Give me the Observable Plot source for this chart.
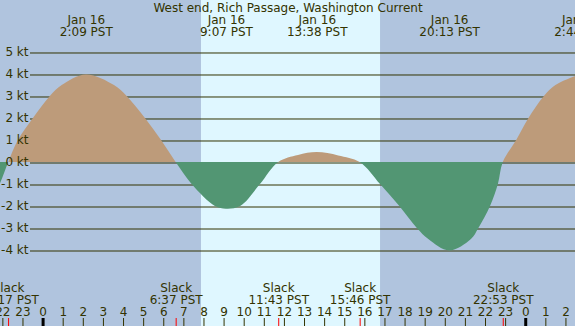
<!DOCTYPE html>
<html><head><meta charset="utf-8">
<script src="https://cdn.jsdelivr.net/npm/d3@7"></script>
<script src="https://cdn.jsdelivr.net/npm/@observablehq/plot@0.6"></script>
<style>html,body{margin:0;padding:0;background:#B0C4DE;overflow:hidden}</style>
</head><body><div id="chart"></div>
<script>
// ---- data (hours since Jan 16 00:00 PST) ----
const title = "West end, Rich Passage, Washington Current";
const curveHours = [-2.5, -2.12, -1.71, -1.23, -0.48, 0.36, 0.95, 2.15, 3.55, 4.18, 5.09, 5.89, 6.617, 7.41, 8.57, 9.117, 9.82, 10.81, 11.717, 12.7, 13.633, 14.7, 15.767, 16.78, 17.74, 18.61, 19.18, 20.217, 21.3, 21.67, 22.25, 22.64, 22.883, 23.55, 24.16, 24.93, 25.5, 26.733];
const curveKnots = [-1.6, -0.97, 0, 1, 2, 3, 3.5, 3.98, 3.5, 3, 2, 1, 0, -1, -2, -2.12, -2, -1, 0, 0.32, 0.45, 0.3, 0, -1, -2, -3, -3.5, -4.02, -3.5, -3, -2, -1, 0, 1, 2, 3, 3.5, 4.0];
const extremeHours = [2.15, 9.117, 13.633, 20.217, 26.733];
const extremeLabels = ["Jan 16\n2:09 PST", "Jan 16\n9:07 PST", "Jan 16\n13:38 PST", "Jan 16\n20:13 PST", "Jan 17\n2:44 PST"];
const slackHours = [-1.717, 6.617, 11.717, 15.767, 22.883];
const slackLabels = ["Slack\n22:17 PST", "Slack\n6:37 PST", "Slack\n11:43 PST", "Slack\n15:46 PST", "Slack\n22:53 PST"];
const hourTicks = [-2,-1,0,1,2,3,4,5,6,7,8,9,10,11,12,13,14,15,16,17,18,19,20,21,22,23,24,25,26];
const hourLabels = ["22","23","0","1","2","3","4","5","6","7","8","9","10","11","12","13","14","15","16","17","18","19","20","21","22","23","0","1","2"];
const midnightHours = [0, 24];
const knotTicks = [5,4,3,2,1,0,-1,-2,-3,-4];
const knotLabels = ["5 kt","4 kt","3 kt","2 kt","1 kt","0 kt","-1 kt","-2 kt","-3 kt","-4 kt"];
const sunrise = 7.876, sunset = 16.78;

// ---- style ----
const nightColor = "#B0C4DE", dayColor = "#DFF7FF";
const floodColor = "#BD9B7A", ebbColor = "#529673";
const inkColor = "#333300";

const data = curveHours.map((h, i) => ({h, v: curveKnots[i]}));
const ext = extremeHours.map((h, i) => ({h, t: extremeLabels[i]}));
const slk = slackHours.map((h, i) => ({h, t: slackLabels[i]}));
const hrs = hourTicks.map((h, i) => ({h, t: hourLabels[i]}));
const kts = knotTicks.map((v, i) => ({v, t: knotLabels[i]}));

const curve = "catmull-rom";
const areaMarks = (typeof Plot.differenceY === "function")
  ? [Plot.differenceY(data, {x: "h", y1: () => 0, y2: "v", positiveFill: floodColor, negativeFill: ebbColor,
      fillOpacity: 1, stroke: "none", curve})]
  : [Plot.areaY(data, {x: "h", y1: 0, y2: d => Math.max(0, d.v), fill: floodColor, curve}),
     Plot.areaY(data, {x: "h", y1: 0, y2: d => Math.min(0, d.v), fill: ebbColor, curve})];

const chart = Plot.plot({
  width: 575, height: 326,
  marginTop: 0, marginBottom: 0, marginLeft: 0, marginRight: 0,
  x: {domain: [-2.118, 26.475], axis: null},
  y: {domain: [-7.4545, 7.3636], axis: null},
  style: {background: nightColor, fontFamily: "DejaVu Sans", fontSize: "12px", color: inkColor, overflow: "hidden"},
  marks: [
    Plot.rect([{a: sunrise, b: sunset}], {x1: "a", x2: "b", fill: dayColor}),
    Plot.ruleY(kts, {y: "v", insetLeft: 30, stroke: inkColor, strokeWidth: 1, dy: 0.5}),
    ...areaMarks,
    Plot.text(kts, {y: "v", text: "t", frameAnchor: "left", dx: 28, textAnchor: "end", fill: inkColor, fontSize: 12}),
    Plot.text([title], {text: d => d, frameAnchor: "top", dy: 8, lineAnchor: "middle", fill: inkColor, fontSize: 12}),
    Plot.text(ext, {x: "h", text: "t", frameAnchor: "top", dy: 25.8, lineAnchor: "middle", lineHeight: 1, fill: inkColor, fontSize: 12}),
    Plot.text(slk, {x: "h", text: "t", frameAnchor: "bottom", dy: -32.3, lineAnchor: "middle", lineHeight: 1.02, fill: inkColor, fontSize: 12}),
    Plot.text(hrs, {x: "h", text: "t", frameAnchor: "bottom", dy: -14, lineAnchor: "middle", fill: inkColor, fontSize: 12}),
    Plot.ruleX(hrs, {x: "h", insetTop: 318, stroke: inkColor, strokeWidth: 1}),
    Plot.ruleX(slk, {x: "h", insetTop: 318, stroke: "#FF0000", strokeWidth: 1}),
    Plot.ruleX(midnightHours, {x: d => d, insetTop: 318, stroke: "#000000", strokeWidth: 3})
  ]
});
document.getElementById("chart").appendChild(chart);
</script>
</body></html>
